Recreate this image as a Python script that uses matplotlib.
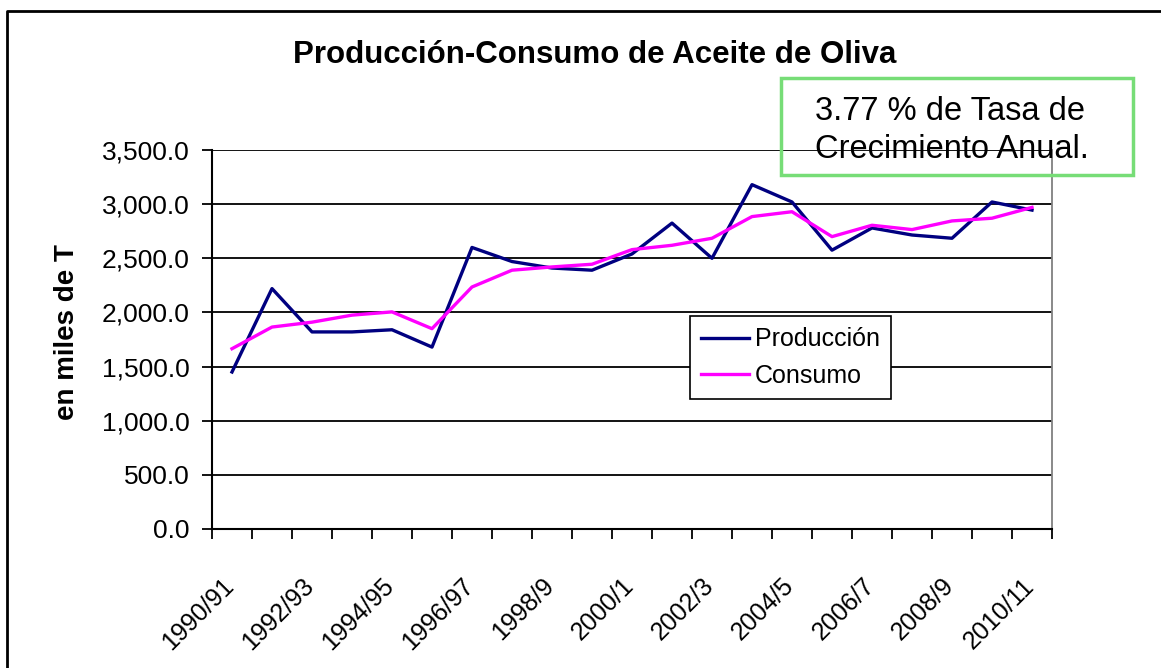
import numpy as np
import matplotlib
matplotlib.use("Agg")
import matplotlib.pyplot as plt
from matplotlib.patches import Rectangle
from matplotlib.lines import Line2D
from matplotlib.ticker import FuncFormatter

plt.rcParams['font.family'] = ['Liberation Sans', 'DejaVu Sans']

# -----------------------------------
# Datos (miles de toneladas)
# -----------------------------------
campanas = ["1990/91", "1991/92", "1992/93", "1993/94", "1994/95", "1995/96",
            "1996/97", "1997/98", "1998/9", "1999/0", "2000/1", "2001/2",
            "2002/3", "2003/4", "2004/5", "2005/6", "2006/7", "2007/8",
            "2008/9", "2009/10", "2010/11"]
produccion = [1450, 2220, 1820, 1820, 1840, 1680, 2600, 2470, 2410, 2390,
              2540, 2825, 2500, 3180, 3020, 2575, 2780, 2715, 2685, 3020, 2945]
consumo = [1665, 1865, 1910, 1975, 2005, 1850, 2235, 2390, 2420, 2445,
           2580, 2620, 2685, 2885, 2930, 2700, 2805, 2765, 2845, 2870, 2970]

# -----------------------------------
# Figura
# -----------------------------------
fig = plt.figure(figsize=(11.61, 6.68), dpi=100)
ax = fig.add_axes([212/1161, 1 - 529/668, 840/1161, 379/668])

x = np.arange(len(campanas))
ax.plot(x, produccion, color="#000080", lw=2.4, label="Producción", zorder=3)
ax.plot(x, consumo, color="#FF00FF", lw=2.4, label="Consumo", zorder=3)

ax.set_xlim(-0.5, len(campanas) - 0.5)
ax.set_ylim(0, 3500)
ax.set_yticks(np.arange(0, 3501, 500))
ax.yaxis.set_major_formatter(FuncFormatter(lambda v, p: f"{v:,.1f}"))
ax.grid(axis="y", color="black", lw=1.3)
ax.set_axisbelow(True)

# ticks en los limites de categoria, etiquetas cada dos campañas
# (las etiquetas giradas se corren un poco a la izquierda, como en Excel)
ax.set_xticks(np.arange(-0.5, len(campanas), 1))
ax.set_xticklabels([])
ax.set_xticks(x[::2] - 0.25, minor=True)
ax.set_xticklabels(campanas[::2], minor=True, rotation=45, ha="right",
                   va="top", rotation_mode="anchor", fontsize=18)
ax.tick_params(axis="x", which="major", length=7, width=1.3, direction="out")
ax.tick_params(axis="x", which="minor", length=0, pad=32)
ax.tick_params(axis="y", length=7, width=1.3, labelsize=19, pad=9)

for s in ["left", "bottom"]:
    ax.spines[s].set_linewidth(1.5)
    ax.spines[s].set_color("black")
ax.spines["top"].set_visible(False)
ax.spines["right"].set_color("#808080")
ax.spines["right"].set_linewidth(1.3)

ax.set_ylabel("en miles de T", fontsize=20, fontweight="bold")
ax.yaxis.set_label_coords(-0.157, 0.52)

leg = ax.legend(loc="upper left", bbox_to_anchor=(0.569, 0.562), fontsize=18,
                frameon=True, fancybox=False, edgecolor="black",
                handlelength=1.9, handletextpad=0.25, borderpad=0.45,
                labelspacing=0.5, borderaxespad=0)
leg.get_frame().set_linewidth(1.2)
leg.get_frame().set_alpha(1)

fig.text(595/1161, 1 - 55/668, "Producción-Consumo de Aceite de Oliva",
         ha="center", va="center", fontsize=22.5, fontweight="bold")

# cuadro de texto verde
fig.patches.append(Rectangle((781/1161, 1 - 175/668), 352/1161, 97/668,
                             transform=fig.transFigure, fill=False,
                             edgecolor="#77dd77", lw=2.5, zorder=5))
fig.text(815/1161, 1 - 112/668, "3.77 % de Tasa de", ha="left", va="center",
         fontsize=23.5, zorder=6)
fig.text(815/1161, 1 - 150/668, "Crecimiento Anual.", ha="left", va="center",
         fontsize=23.5, zorder=6)

# borde exterior
fig.lines.append(Line2D([7/1161, 7/1161, 1], [0, 1 - 11/668, 1 - 11/668],
                        transform=fig.transFigure, color="black", lw=2))

fig.savefig("out.png", dpi=100)
